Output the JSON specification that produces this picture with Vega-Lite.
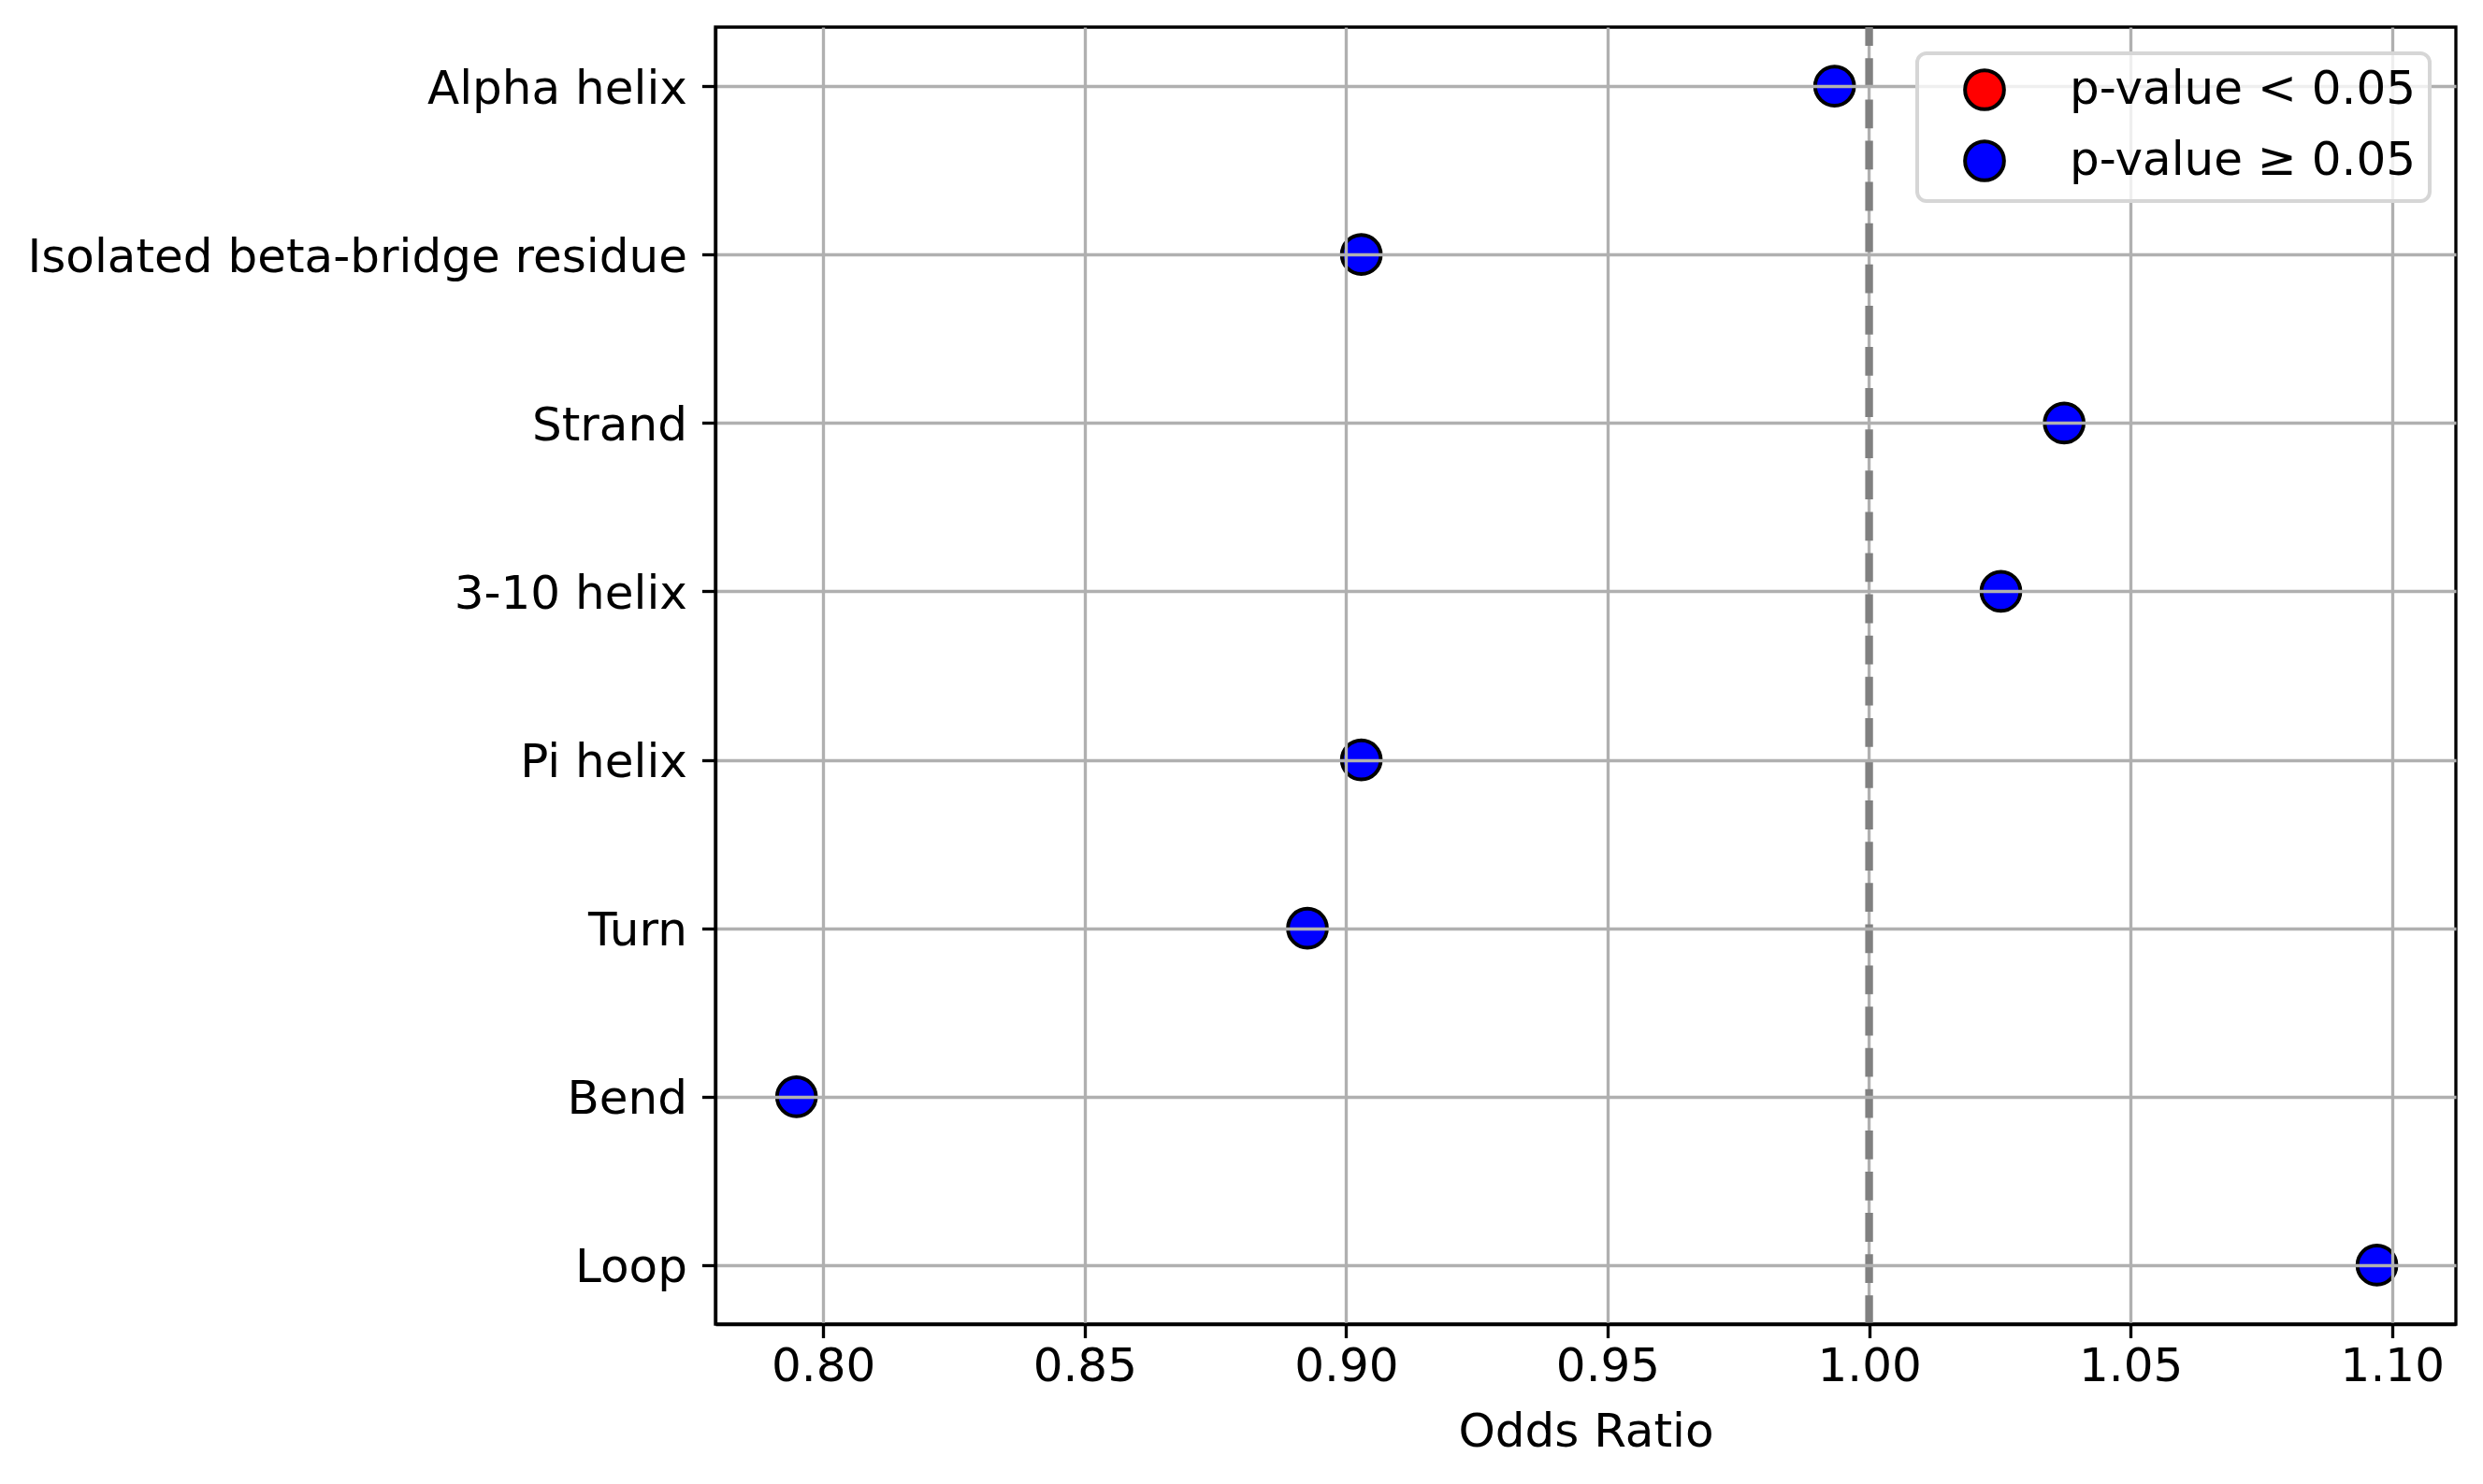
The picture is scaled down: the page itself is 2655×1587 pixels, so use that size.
{
  "$schema": "https://vega.github.io/schema/vega-lite/v6.json",
  "width": 1861,
  "height": 1387,
  "autosize": {"type": "none"},
  "padding": {"left": 765, "top": 29, "right": 29, "bottom": 171},
  "background": "white",
  "config": {
    "view": {"stroke": "black", "strokeWidth": 3.33},
    "font": "DejaVu Sans",
    "axis": {
      "zindex": 1,
      "grid": true,
      "gridColor": "#b0b0b0",
      "gridWidth": 3.33,
      "gridOpacity": 1,
      "domainColor": "black",
      "domainWidth": 3.33,
      "tickColor": "black",
      "tickWidth": 3.33,
      "tickSize": 14.6,
      "labelFont": "DejaVu Sans",
      "labelFontSize": 50,
      "labelColor": "black",
      "titleFont": "DejaVu Sans",
      "titleFontSize": 50,
      "titleFontWeight": "normal",
      "titleColor": "black"
    },
    "legend": {"strokeWidth": 4}
  },
  "layer": [
    {
      "data": {"values": [{"ref": 1.0}]},
      "mark": {"type": "rule", "color": "#b0b0b0", "strokeWidth": 3.33},
      "encoding": {
        "x": {"field": "ref", "type": "quantitative", "title": "Odds Ratio", "scale": {"domain": [0.7794, 1.1122], "nice": false, "zero": false}}
      }
    },
    {
      "data": {"values": [{"ref": 1.0}]},
      "mark": {"type": "rule", "color": "gray", "strokeWidth": 8.33, "strokeDash": [30.8, 13.3], "strokeDashOffset": 10.8},
      "encoding": {
        "x": {"field": "ref", "type": "quantitative", "title": "Odds Ratio", "scale": {"domain": [0.7794, 1.1122], "nice": false, "zero": false}}
      }
    },
    {
      "data": {
        "values": [
          {"structure": "Alpha helix", "odds_ratio": 0.9934, "significance": "p-value ≥ 0.05"},
          {"structure": "Isolated beta-bridge residue", "odds_ratio": 0.9029, "significance": "p-value ≥ 0.05"},
          {"structure": "Strand", "odds_ratio": 1.0373, "significance": "p-value ≥ 0.05"},
          {"structure": "3-10 helix", "odds_ratio": 1.0252, "significance": "p-value ≥ 0.05"},
          {"structure": "Pi helix", "odds_ratio": 0.9029, "significance": "p-value ≥ 0.05"},
          {"structure": "Turn", "odds_ratio": 0.8926, "significance": "p-value ≥ 0.05"},
          {"structure": "Bend", "odds_ratio": 0.7949, "significance": "p-value ≥ 0.05"},
          {"structure": "Loop", "odds_ratio": 1.0971, "significance": "p-value ≥ 0.05"}
        ]
      },
      "mark": {"type": "point", "filled": true, "shape": "circle", "size": 1739, "stroke": "black", "strokeWidth": 4, "opacity": 1},
      "encoding": {
        "x": {
          "field": "odds_ratio",
          "type": "quantitative",
          "title": "Odds Ratio",
          "scale": {"domain": [0.7794, 1.1122], "nice": false, "zero": false},
          "axis": {
            "zindex": 1,
            "values": [0.8, 0.85, 0.9, 0.95, 1.0, 1.05, 1.1],
            "format": ".2f",
            "labelPadding": 6,
            "titlePadding": 20,
            "gridOpacity": {"condition": {"test": "abs(datum.value - 1) < 0.0001", "value": 0}, "value": 1}
          }
        },
        "y": {
          "field": "structure",
          "type": "nominal",
          "sort": null,
          "title": null,
          "scale": {"type": "point", "padding": 0.35},
          "axis": {"zindex": 1, "labelPadding": 16, "labelLimit": 1000, "labelOffset": 3}
        },
        "color": {
          "field": "significance",
          "type": "nominal",
          "scale": {"domain": ["p-value < 0.05", "p-value ≥ 0.05"], "range": ["red", "blue"]},
          "legend": {
            "title": null,
            "orient": "top-right",
            "offset": 28,
            "padding": 14,
            "fillColor": "rgba(255,255,255,0.8)",
            "strokeColor": "#d6d6d6",
            "cornerRadius": 10,
            "symbolType": "circle",
            "symbolSize": 1739,
            "symbolStrokeColor": "black",
            "symbolStrokeWidth": 4,
            "symbolOpacity": 1,
            "labelFont": "DejaVu Sans",
            "labelFontSize": 50,
            "labelColor": "black",
            "labelOffset": 66,
            "symbolOffset": 33,
            "rowPadding": 18,
            "labelLimit": 1000,
            "zindex": 2
          }
        }
      }
    }
  ]
}
